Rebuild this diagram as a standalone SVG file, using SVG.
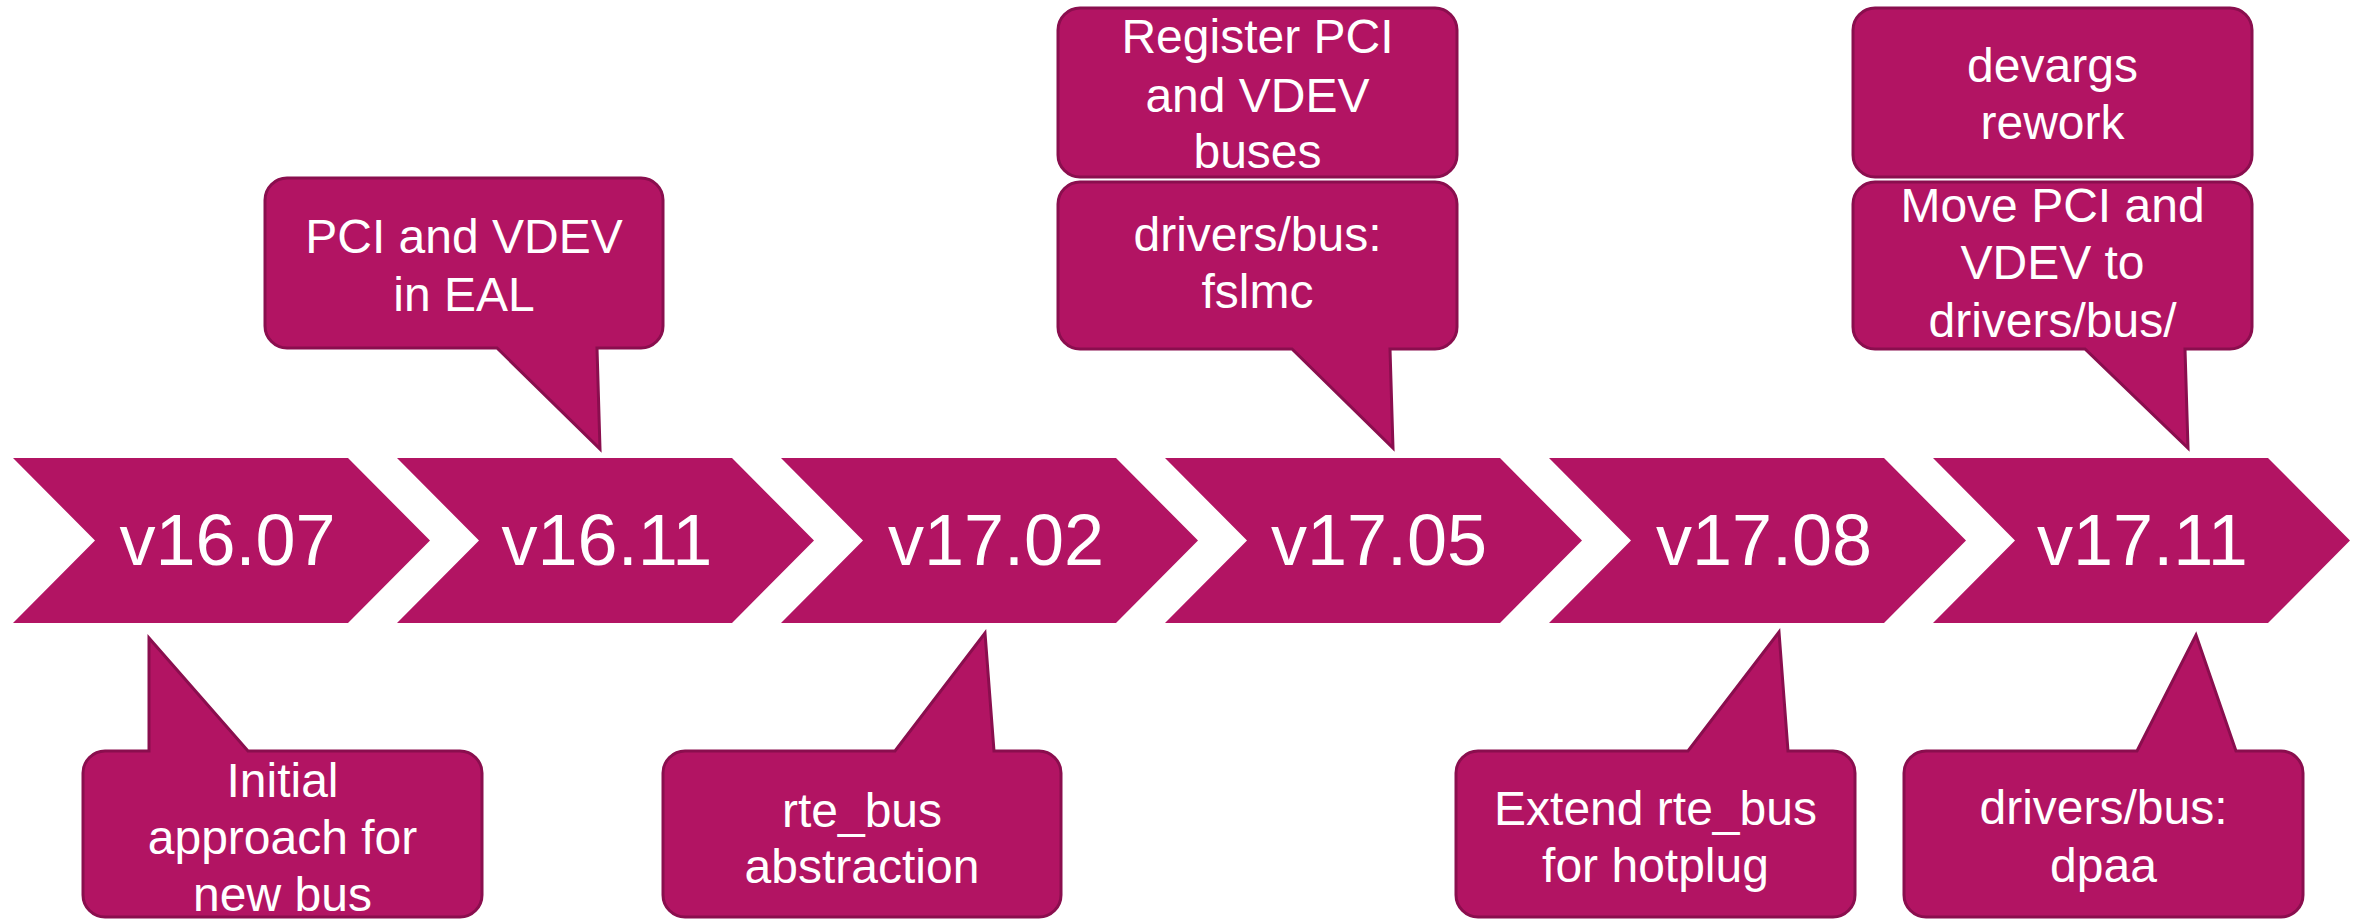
<svg xmlns="http://www.w3.org/2000/svg" width="2364" height="921" viewBox="0 0 2364 921">
<style>
.chev{fill:#B21463;}
.co{fill:#B21463;stroke:#8A0E4E;stroke-width:3;stroke-linejoin:miter;}
.ver{font-family:"Liberation Sans",Arial,sans-serif;font-size:72px;fill:#FFFFFF;text-anchor:middle;}
.lbl{font-family:"Liberation Sans",Arial,sans-serif;font-size:48px;fill:#FFFFFF;text-anchor:middle;}
</style>
<rect width="2364" height="921" fill="#FFFFFF"/>
<g id="timeline">
<g id="v1607"><polygon class="chev" points="13,458 348,458 430,540.5 348,623 13,623 95,540.5"/><text class="ver" x="227.5" y="565">v16.07</text></g>
<g id="v1611"><polygon class="chev" points="397,458 732,458 814,540.5 732,623 397,623 479,540.5"/><text class="ver" x="607" y="565">v16.11</text></g>
<g id="v1702"><polygon class="chev" points="781,458 1116,458 1198,540.5 1116,623 781,623 863,540.5"/><text class="ver" x="996" y="565">v17.02</text></g>
<g id="v1705"><polygon class="chev" points="1165,458 1500,458 1582,540.5 1500,623 1165,623 1247,540.5"/><text class="ver" x="1379" y="565">v17.05</text></g>
<g id="v1708"><polygon class="chev" points="1549,458 1884,458 1966,540.5 1884,623 1549,623 1631,540.5"/><text class="ver" x="1764" y="565">v17.08</text></g>
<g id="v1711"><polygon class="chev" points="1933,458 2268,458 2350,540.5 2268,623 1933,623 2015,540.5"/><text class="ver" x="2142.5" y="565">v17.11</text></g>
</g>
<g id="connectors"></g>
<g id="c1">
<path class="co" d="M287,178 H641 A22,22 0 0 1 663,200 V326 A22,22 0 0 1 641,348 H597 L600,449 L497,348 H287 A22,22 0 0 1 265,326 V200 A22,22 0 0 1 287,178 Z"/>
<text class="lbl" x="464" y="253">PCI and VDEV</text>
<text class="lbl" x="464" y="311">in EAL</text>
</g>
<g id="c2">
<path class="co" d="M105,751 H149 L149,638 L248,751 H460 A22,22 0 0 1 482,773 V895 A22,22 0 0 1 460,917 H105 A22,22 0 0 1 83,895 V773 A22,22 0 0 1 105,751 Z"/>
<text class="lbl" x="282.5" y="797">Initial</text>
<text class="lbl" x="282.5" y="854">approach for</text>
<text class="lbl" x="282.5" y="911">new bus</text>
</g>
<g id="c3">
<path class="co" d="M685,751 H895 L985,633 L994,751 H1039 A22,22 0 0 1 1061,773 V895 A22,22 0 0 1 1039,917 H685 A22,22 0 0 1 663,895 V773 A22,22 0 0 1 685,751 Z"/>
<text class="lbl" x="862" y="827">rte_bus</text>
<text class="lbl" x="862" y="883">abstraction</text>
</g>
<g id="c4">
<rect class="co" x="1058" y="8" width="399" height="169" rx="22" ry="22"/>
<text class="lbl" x="1257.5" y="53">Register PCI</text>
<text class="lbl" x="1257.5" y="112">and VDEV</text>
<text class="lbl" x="1257.5" y="168">buses</text>
</g>
<g id="c5">
<path class="co" d="M1080,182 H1435 A22,22 0 0 1 1457,204 V327 A22,22 0 0 1 1435,349 H1390 L1393,448 L1292,349 H1080 A22,22 0 0 1 1058,327 V204 A22,22 0 0 1 1080,182 Z"/>
<text class="lbl" x="1257.5" y="251">drivers/bus:</text>
<text class="lbl" x="1257.5" y="308">fslmc</text>
</g>
<g id="c6">
<path class="co" d="M1478,751 H1688 L1779,632 L1788,751 H1833 A22,22 0 0 1 1855,773 V895 A22,22 0 0 1 1833,917 H1478 A22,22 0 0 1 1456,895 V773 A22,22 0 0 1 1478,751 Z"/>
<text class="lbl" x="1655.5" y="825">Extend rte_bus</text>
<text class="lbl" x="1655.5" y="882">for hotplug</text>
</g>
<g id="c7">
<rect class="co" x="1853" y="8" width="399" height="169" rx="22" ry="22"/>
<text class="lbl" x="2052.5" y="82">devargs</text>
<text class="lbl" x="2052.5" y="139">rework</text>
</g>
<g id="c8">
<path class="co" d="M1875,182 H2230 A22,22 0 0 1 2252,204 V327 A22,22 0 0 1 2230,349 H2185 L2188,448 L2085,349 H1875 A22,22 0 0 1 1853,327 V204 A22,22 0 0 1 1875,182 Z"/>
<text class="lbl" x="2052.5" y="222">Move PCI and</text>
<text class="lbl" x="2052.5" y="279">VDEV to</text>
<text class="lbl" x="2052.5" y="337">drivers/bus/</text>
</g>
<g id="c9">
<path class="co" d="M1926,751 H2137 L2196,635 L2236,751 H2281 A22,22 0 0 1 2303,773 V895 A22,22 0 0 1 2281,917 H1926 A22,22 0 0 1 1904,895 V773 A22,22 0 0 1 1926,751 Z"/>
<text class="lbl" x="2103.5" y="824">drivers/bus:</text>
<text class="lbl" x="2103.5" y="882">dpaa</text>
</g>
</svg>
